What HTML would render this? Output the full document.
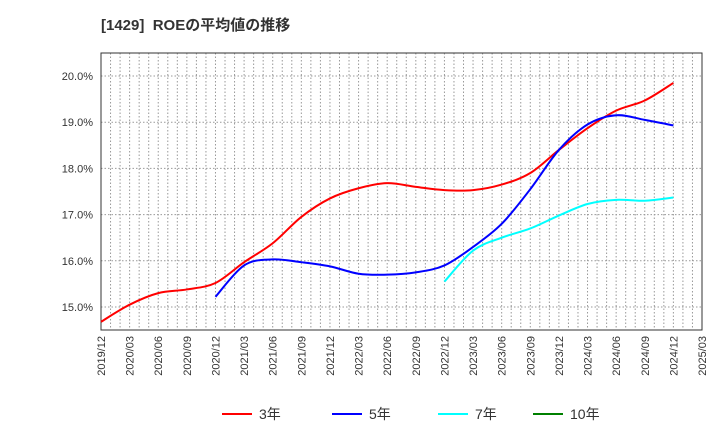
<!DOCTYPE html>
<html><head><meta charset="utf-8"><style>
body{margin:0;background:#fff;font-family:"Liberation Sans","Noto Sans CJK JP",sans-serif}
svg text{font-family:"Liberation Sans","Noto Sans CJK JP",sans-serif}
</style></head><body>
<svg id="c" width="720" height="440">
<text x="101" y="30" font-size="15" font-weight="bold" fill="#333">[1429]&#160;&#160;ROEの平均値の推移</text>
<g id="grid"></g><g id="axes"></g><g id="lines"></g><g id="legend"></g>
</svg>
<script>
const xLabels=["2019/12","2020/03","2020/06","2020/09","2020/12","2021/03","2021/06","2021/09","2021/12","2022/03","2022/06","2022/09","2022/12","2023/03","2023/06","2023/09","2023/12","2024/03","2024/06","2024/09","2024/12","2025/03"];
const yTicks=[15,16,17,18,19,20];
const roe3=[14.68,15.05,15.3,15.38,15.52,15.97,16.38,16.95,17.35,17.57,17.68,17.6,17.53,17.53,17.65,17.9,18.4,18.87,19.25,19.47,19.85];
const roe5=[null,null,null,null,15.22,15.9,16.03,15.97,15.88,15.72,15.7,15.75,15.9,16.3,16.8,17.55,18.4,18.95,19.15,19.05,18.93];
const roe7=[null,null,null,null,null,null,null,null,null,null,null,null,15.55,16.22,16.5,16.7,16.98,17.23,17.32,17.3,17.37];
const roe10=[];
const L=101,R=702,T=53,B=330,NS="http://www.w3.org/2000/svg";
const xs=i=>L+i*(R-L)/21, ys=v=>76+(20-v)*46.2;
function mk(t,a,p){const e=document.createElementNS(NS,t);for(const k in a)e.setAttribute(k,a[k]);p.appendChild(e);return e;}
const g=document.getElementById('grid'),ax=document.getElementById('axes'),ln=document.getElementById('lines'),lg=document.getElementById('legend');
for(let m=1;m<63;m++){const x=L+m*(R-L)/63;const e=mk('line',{x1:x,x2:x,y1:T,y2:B,stroke:'#999','stroke-dasharray':'1.5,2','stroke-width':1},g);

}
yTicks.forEach(v=>{const y=ys(v);const e=mk('line',{x1:L,x2:R,y1:y,y2:y,stroke:'#999','stroke-dasharray':'1.5,2'},g);


const t=mk('text',{x:L-8,y:y+4,'font-size':11,'text-anchor':'end',fill:'#333'},ax);t.textContent=v.toFixed(1)+'%';

});
const fr=mk('rect',{x:L,y:T,width:R-L,height:B-T,fill:'none',stroke:'#333'},ax);


xLabels.forEach((s,i)=>{const x=xs(i);const t=mk('text',{x:0,y:0,'font-size':11,'text-anchor':'end',fill:'#333',transform:`translate(${x+4},336) rotate(-90)`},ax);t.textContent=s;

});
function path(arr){const p=[];arr.forEach((v,i)=>{if(v!=null)p.push([xs(i),ys(v)]);});if(p.length<2)return '';
let d=`M${p[0][0]},${p[0][1]}`;for(let i=0;i<p.length-1;i++){const p0=p[i-1]||p[i],p1=p[i],p2=p[i+1],p3=p[i+2]||p2;
d+=` C${p1[0]+(p2[0]-p0[0])/6},${p1[1]+(p2[1]-p0[1])/6} ${p2[0]-(p3[0]-p1[0])/6},${p2[1]-(p3[1]-p1[1])/6} ${p2[0]},${p2[1]}`;}return d;}
[[roe3,'#ff0000','3年','line-3yr'],[roe5,'#0000ff','5年','line-5yr'],[roe7,'#00ffff','7年','line-7yr'],[roe10,'#008000','10年','line-10yr']].forEach((s,k)=>{
const d=path(s[0]);if(d){const e=mk('path',{d:d,fill:'none',stroke:s[1],'stroke-width':2},ln);

}
const lx=[222,332,438,533][k];
const l=mk('line',{x1:lx,x2:lx+30,y1:414,y2:414,stroke:s[1],'stroke-width':2},lg);


const t=mk('text',{x:lx+37,y:419,'font-size':14,fill:'#333'},lg);t.textContent=s[2];

});
</script>
</body></html>
